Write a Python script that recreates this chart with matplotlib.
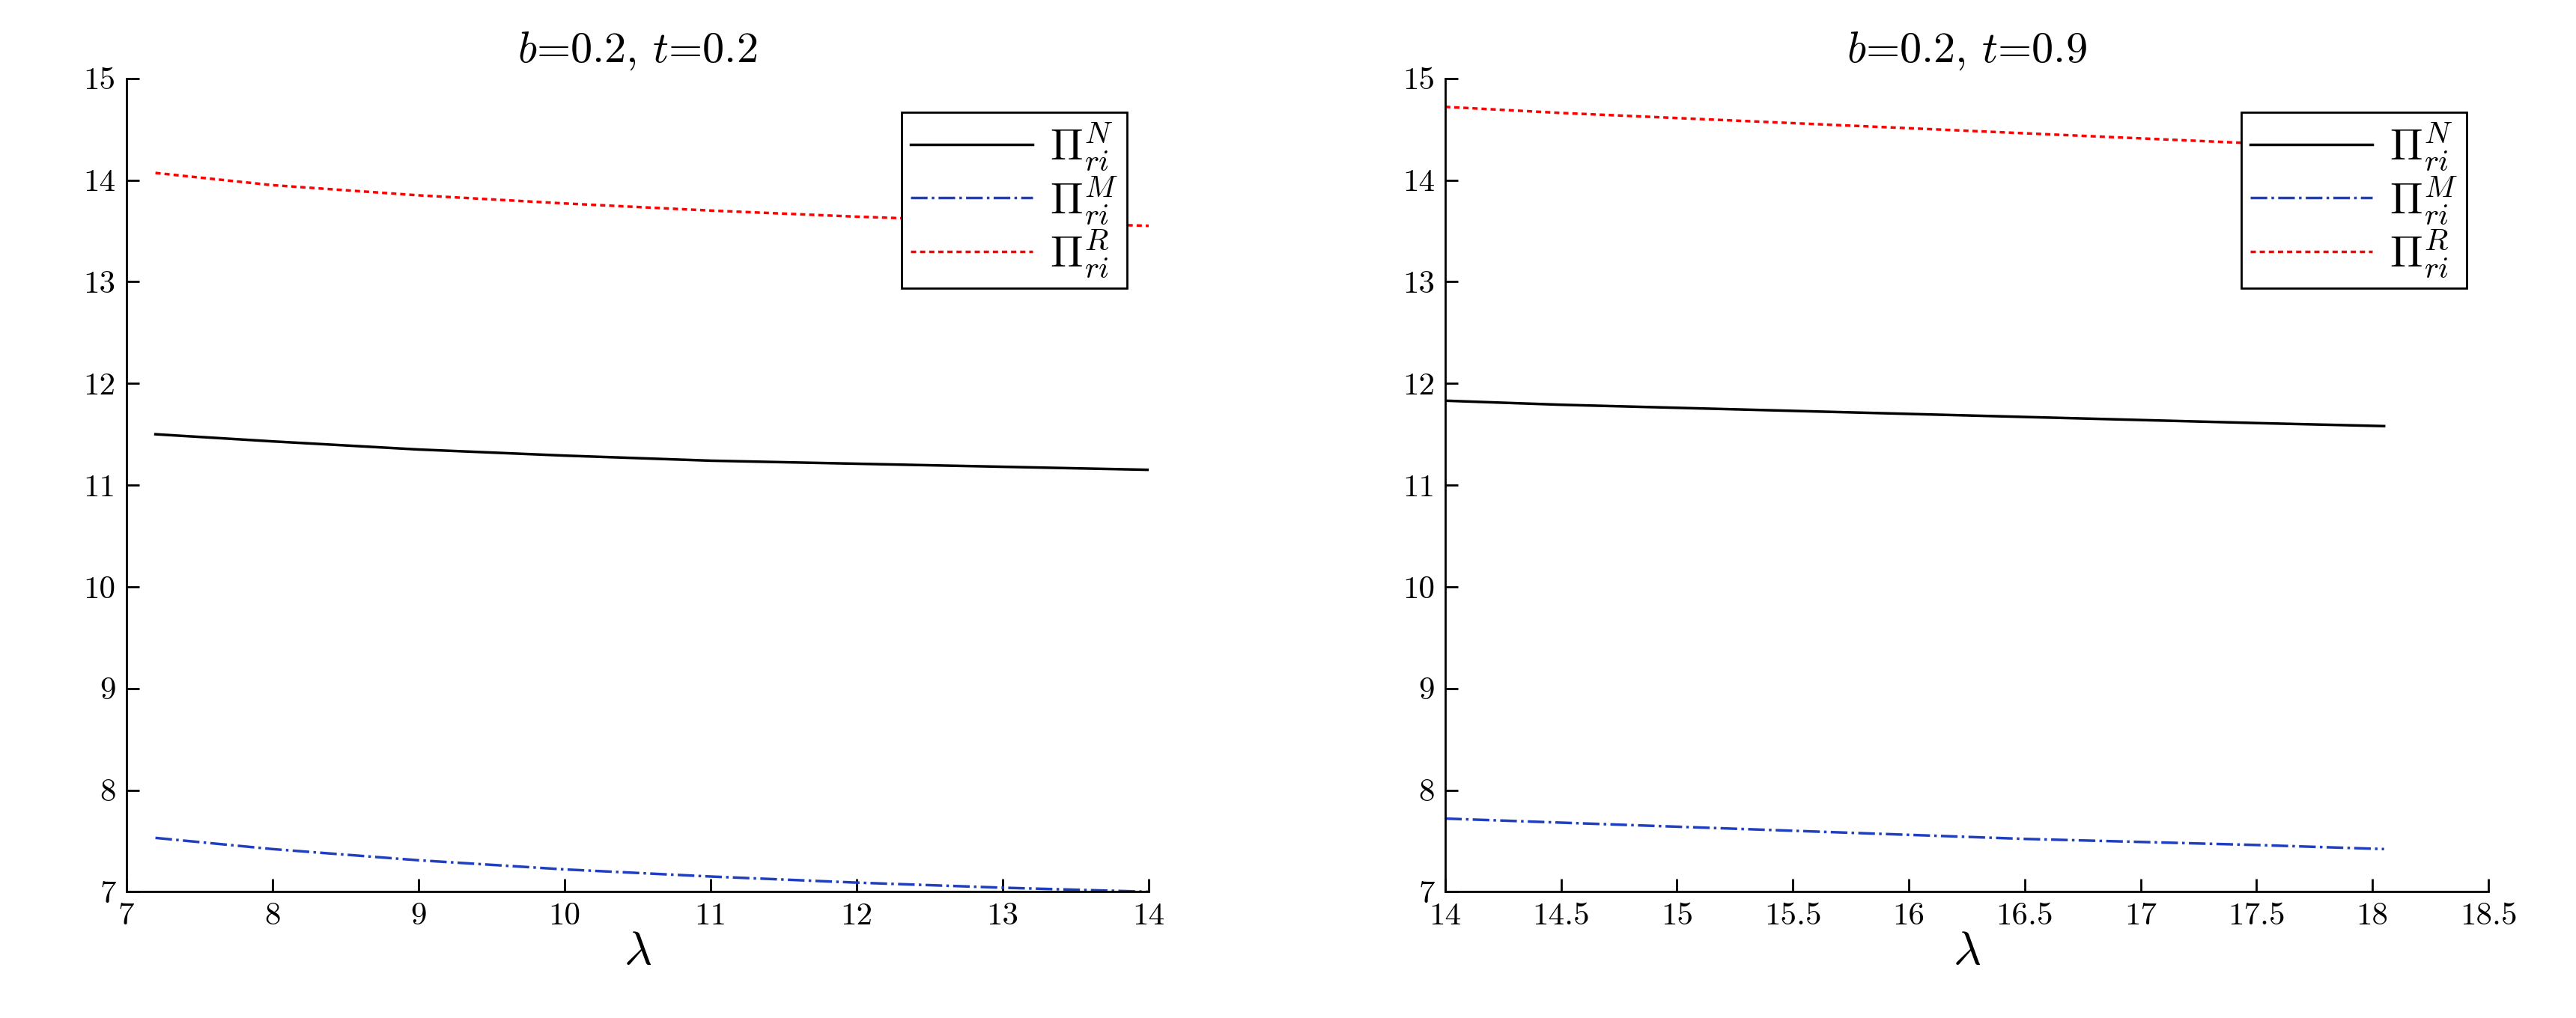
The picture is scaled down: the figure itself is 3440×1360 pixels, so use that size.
import matplotlib
matplotlib.use('Agg')
import matplotlib.pyplot as plt

plt.rcParams['mathtext.fontset'] = 'cm'
plt.rcParams['font.family'] = 'serif'
plt.rcParams['font.serif'] = ['cmr10', 'DejaVu Serif']
plt.rcParams['axes.formatter.use_mathtext'] = True

# left panel: b=0.2, t=0.2
lam1 = [7.2, 8, 9, 10, 11, 12, 13, 14]
n1 = [11.50, 11.43, 11.35, 11.29, 11.24, 11.21, 11.18, 11.15]
m1 = [7.53, 7.42, 7.31, 7.22, 7.15, 7.09, 7.04, 7.00]
r1 = [14.07, 13.95, 13.85, 13.77, 13.70, 13.64, 13.59, 13.55]

# right panel: b=0.2, t=0.9
lam2 = [14, 14.5, 15, 15.5, 16, 16.5, 17, 17.5, 18.05]
n2 = [11.83, 11.79, 11.76, 11.73, 11.70, 11.67, 11.64, 11.61, 11.58]
m2 = [7.72, 7.68, 7.64, 7.60, 7.56, 7.52, 7.49, 7.46, 7.42]
r2 = [14.72, 14.66, 14.61, 14.56, 14.51, 14.46, 14.41, 14.36, 14.31]

fig = plt.figure(figsize=(34.4, 13.6), dpi=100)
ax1 = fig.add_axes([0.049, 0.124, 0.397, 0.799])
ax2 = fig.add_axes([0.561, 0.124, 0.405, 0.799])

panels = [
    (ax1, lam1, n1, m1, r1, r'$b$=0.2, $t$=0.2', (7, 14), [7, 8, 9, 10, 11, 12, 13, 14]),
    (ax2, lam2, n2, m2, r2, r'$b$=0.2, $t$=0.9', (14, 18.5),
     [14, 14.5, 15, 15.5, 16, 16.5, 17, 17.5, 18, 18.5]),
]

for ax, lam, n, m, r, title, xl, xt in panels:
    ax.plot(lam, n, color='black', lw=2.5, label=r'$\Pi_{ri}^{N}$')
    ax.plot(lam, m, color='#1f3fbf', lw=2.5, ls='-.', label=r'$\Pi_{ri}^{M}$')
    ax.plot(lam, r, color='#ff0000', lw=2.5, ls=(0, (2, 1.5)), label=r'$\Pi_{ri}^{R}$')
    ax.set_xlim(*xl)
    ax.set_ylim(7, 15)
    ax.set_xticks(xt)
    ax.set_xticklabels([('%g' % v) for v in xt])
    ax.set_yticks(range(7, 16))
    ax.set_yticklabels([str(v) for v in range(7, 16)])
    ax.spines['top'].set_visible(False)
    ax.spines['right'].set_visible(False)
    for s in ax.spines.values():
        s.set_linewidth(2)
    ax.tick_params(direction='in', length=12, width=2, labelsize=31, pad=10)
    ax.set_title(title, fontsize=42, pad=16)
    ax.set_xlabel(r'$\lambda$', fontsize=46, labelpad=0)
    leg = ax.legend(loc='upper right', fontsize=42, fancybox=False, framealpha=1,
                    edgecolor='black', handlelength=2.8, borderpad=0.2,
                    labelspacing=0.05, handletextpad=0.4, bbox_to_anchor=(1.0, 0.985))
    leg.get_frame().set_linewidth(2)

fig.savefig('out.png', dpi=100)
